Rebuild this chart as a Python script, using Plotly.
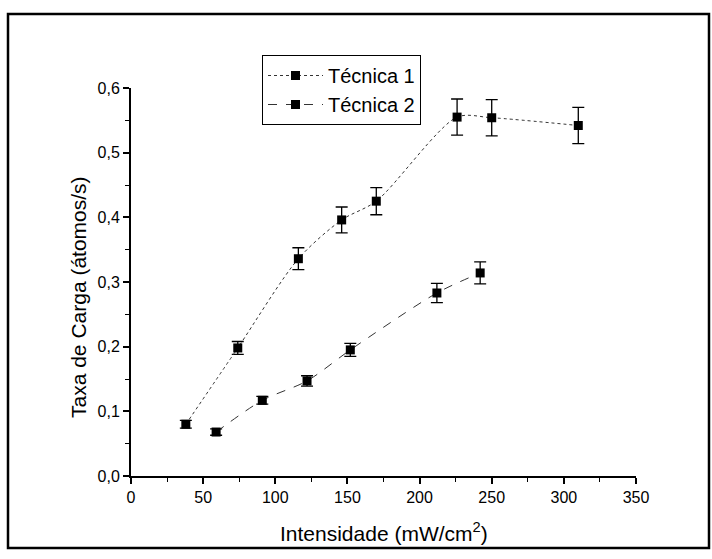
import plotly.graph_objects as go

# Técnica 1
x1 = [38, 74, 116, 146, 170, 226, 250, 310]
y1 = [0.080, 0.198, 0.336, 0.396, 0.425, 0.555, 0.554, 0.542]
e1 = [0.006, 0.010, 0.017, 0.020, 0.021, 0.028, 0.028, 0.028]

# Técnica 2
x2 = [59, 91, 122, 152, 212, 242]
y2 = [0.068, 0.117, 0.147, 0.195, 0.283, 0.314]
e2 = [0.005, 0.006, 0.008, 0.010, 0.015, 0.017]

x_ticks = [0, 50, 100, 150, 200, 250, 300, 350]
y_ticks = [0.0, 0.1, 0.2, 0.3, 0.4, 0.5, 0.6]

x_title = "Intensidade (mW/cm<sup>2</sup>)"
y_title = "Taxa de Carga (átomos/s)"

W, H = 712, 559
L, R, T, B = 131, 76, 88, 83

fig = go.Figure()
fig.add_trace(go.Scatter(
    x=x1, y=y1, name="Técnica 1", mode="lines+markers",
    line=dict(color="#333", width=1, dash="dot", shape="spline", smoothing=0.8),
    marker=dict(symbol="square", size=9, color="black"),
    error_y=dict(type="data", array=e1, color="black", thickness=1.3, width=6),
))
fig.add_trace(go.Scatter(
    x=x2, y=y2, name="Técnica 2", mode="lines+markers",
    line=dict(color="#333", width=1, dash="dash", shape="spline", smoothing=0.8),
    marker=dict(symbol="square", size=9, color="black"),
    error_y=dict(type="data", array=e2, color="black", thickness=1.3, width=6),
))

pw = W - L - R
ph = H - T - B
fx = lambda px: (px - L) / pw
fy = lambda py: (H - B - py) / ph

fig.update_layout(
    width=W, height=H,
    margin=dict(l=L, r=R, t=T, b=B),
    paper_bgcolor="white", plot_bgcolor="white",
    separators=",.",
    font=dict(family="Liberation Sans, Arial, sans-serif", color="black"),
    showlegend=True,
    legend=dict(
        x=fx(262), y=fy(55), xanchor="left", yanchor="top",
        bordercolor="black", borderwidth=1, bgcolor="white",
        font=dict(size=20), itemwidth=55, tracegroupgap=0,
    ),
    xaxis=dict(
        range=[0, 350], tickvals=x_ticks, ticktext=[str(v) for v in x_ticks],
        showgrid=False, zeroline=False, showline=True, linecolor="black", linewidth=2,
        ticks="outside", ticklen=6, tickwidth=1.5, tickcolor="black",
        minor=dict(dtick=25, ticks="outside", ticklen=4, tickcolor="black", tickwidth=1.2, showgrid=False),
        tickfont=dict(size=16),
    ),
    yaxis=dict(
        range=[0, 0.6], tickvals=y_ticks, tickformat=".1f",
        showgrid=False, zeroline=False, showline=True, linecolor="black", linewidth=2,
        ticks="outside", ticklen=6, tickwidth=1.5, tickcolor="black",
        minor=dict(dtick=0.05, ticks="outside", ticklen=4, tickcolor="black", tickwidth=1.2, showgrid=False),
        tickfont=dict(size=16),
    ),
    annotations=[
        dict(text=x_title, xref="paper", yref="paper", x=fx(384), y=fy(532),
             xanchor="center", yanchor="middle", showarrow=False, font=dict(size=21)),
        dict(text=y_title, xref="paper", yref="paper", x=fx(78), y=fy(297),
             xanchor="center", yanchor="middle", showarrow=False, textangle=-90,
             font=dict(size=21)),
    ],
    shapes=[dict(
        type="rect", xref="paper", yref="paper",
        x0=fx(8), x1=fx(709), y0=fy(548), y1=fy(14),
        line=dict(color="black", width=2.5), layer="below",
    )],
)

fig.write_html("out.html")
